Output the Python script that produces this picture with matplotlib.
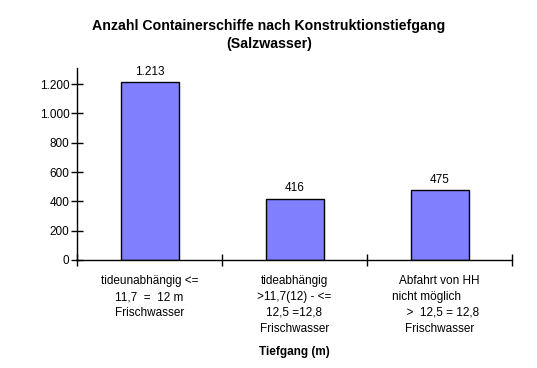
import matplotlib.pyplot as plt
import numpy as np

# data
categories = [
    "tideunabhängig <=\n11,7  =  12 m\nFrischwasser",
    "tideabhängig\n>11,7(12) - <=\n12,5 =12,8\nFrischwasser",
    "Abfahrt von HH\nnicht möglich        \n  >  12,5 = 12,8\nFrischwasser",
]
values = [1213, 416, 475]
yticks = [0, 200, 400, 600, 800, 1000, 1200]

plt.rcParams['font.family'] = ['Liberation Sans', 'DejaVu Sans']

fig = plt.figure(figsize=(5.37, 3.68), dpi=100)
ax = fig.add_axes([77 / 537, 1 - 260 / 368, 435 / 537, 192 / 368])

x = np.arange(len(values))
bars = ax.bar(x, values, width=0.4, color='#8080FF', edgecolor='black', linewidth=1)

# value labels above the bars, German thousands separator
for b, v in zip(bars, values):
    txt = f"{v:,}".replace(",", ".")
    ax.text(b.get_x() + b.get_width() / 2, v + 32, txt, ha='center', va='bottom', fontsize=8.5)

ax.set_xlim(-0.5, len(values) - 0.5)
ax.set_ylim(0, 1310)

ax.set_yticks(yticks)
ax.set_yticklabels([f"{t:,}".replace(",", ".") for t in yticks], fontsize=8.5)
ax.tick_params(axis='y', direction='inout', length=9, width=1, pad=1)

# category boundaries as x ticks, labels in the middle
ax.set_xticks(np.arange(len(values) + 1) - 0.5)
ax.set_xticklabels([])
ax.set_xticks(x, minor=True)
ax.set_xticklabels(categories, minor=True, fontsize=8.5, linespacing=1.42, va='top')
ax.tick_params(axis='x', which='major', direction='inout', length=8, width=1)
ax.tick_params(axis='x', which='minor', length=0, pad=11)

for s in ['top', 'right']:
    ax.spines[s].set_visible(False)
for s in ['left', 'bottom']:
    ax.spines[s].set_linewidth(1)

ax.set_xlabel("Tiefgang (m)", fontsize=8.5, fontweight='bold', labelpad=8)

fig.text(269 / 537, 1 - 35 / 368, "Anzahl Containerschiffe nach Konstruktionstiefgang\n(Salzwasser)",
         ha='center', va='center', fontsize=10.2, fontweight='bold', linespacing=1.3)

fig.savefig("out.png", dpi=100)
